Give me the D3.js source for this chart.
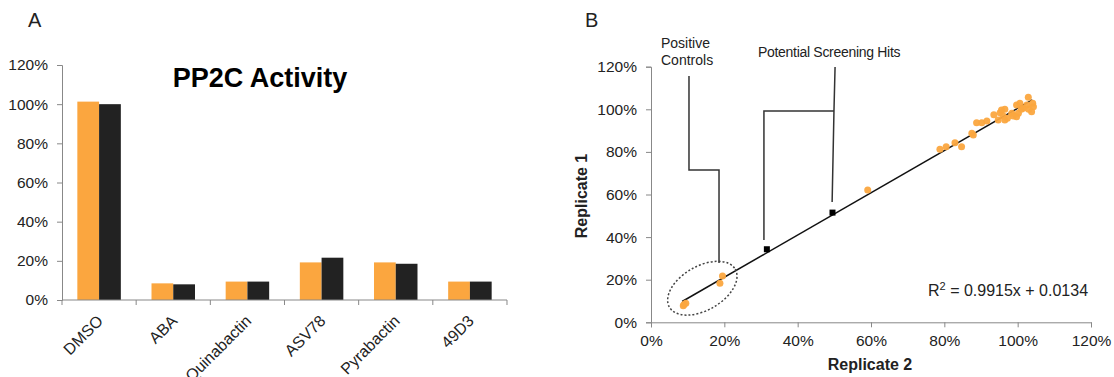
<!DOCTYPE html>
<html>
<head>
<meta charset="utf-8">
<script src="https://cdn.jsdelivr.net/npm/d3@7"></script>
<style>
  body { margin: 0; background: #fff; }
  text { font-family: "Liberation Sans", Arial, sans-serif; fill: #222; }
</style>
</head>
<body>
<div id="chart"></div>
<script>
// ---- data ----
var categories = ["DMSO", "ABA", "Quinabactin", "ASV78", "Pyrabactin", "49D3"];
var rep1 = [1.013, 0.085, 0.094, 0.192, 0.192, 0.094];   // orange bars
var rep2 = [1.000, 0.080, 0.094, 0.216, 0.185, 0.094];   // black bars
var yTicksA = [0, 0.2, 0.4, 0.6, 0.8, 1.0, 1.2];

// scatter: [replicate 2, replicate 1]
var screenPts = [
  [0.088, 0.078], [0.095, 0.089], [0.090, 0.083], [0.188, 0.183], [0.195, 0.217],
  [0.591, 0.621],
  [0.788, 0.812], [0.805, 0.824], [0.829, 0.843], [0.847, 0.824], [0.875, 0.887],
  [0.879, 0.879], [0.888, 0.937], [0.902, 0.937], [0.916, 0.945], [0.935, 0.975],
  [0.952, 0.984], [0.956, 0.997], [0.965, 1.000], [0.947, 0.950], [0.965, 0.950],
  [0.972, 0.958], [0.984, 0.981], [0.988, 0.969], [0.997, 1.020], [1.006, 1.028],
  [1.015, 1.005], [1.002, 0.981], [1.025, 1.020], [1.029, 1.056], [1.041, 1.028],
  [1.038, 0.989], [1.043, 1.012], [0.997, 0.965], [0.960, 0.970], [1.010, 1.000],
  [1.030, 1.000]
];
var hitPts = [[0.316, 0.343], [0.495, 0.515]];
var fitSlope = 0.9915, fitIntercept = 0.0134;
var fitRange = [0.085, 1.04];
var ticksB = [0, 0.2, 0.4, 0.6, 0.8, 1.0, 1.2];

// callout leader lines, in data units [x, y]
var controlsLeader = [[0.1036, 1.156], [0.1036, 0.715], [0.1855, 0.715], [0.1855, 0.278]];
var hitsLeaderA = [[0.502, 1.199], [0.499, 0.992], [0.494, 0.565]];
var hitsLeaderB = [[0.499, 0.992], [0.308, 0.992], [0.308, 0.386]];
var controlsCircle = [0.14, 0.16];

var orange = "#FBA63F", dark = "#222222", axisGrey = "#888888";
var pct = d3.format(".0%");

var svg = d3.select("#chart").append("svg")
  .attr("width", 1114)
  .attr("height", 377);

// ================= Panel A =================
var yA = d3.scaleLinear().domain([0, 1.2]).range([300, 65]);
var xA = d3.scaleBand().domain(categories).range([62, 507])
  .paddingInner(0.4135).paddingOuter(0.2068);
var xSub = d3.scaleBand().domain([0, 1]).range([0, xA.bandwidth()]);

svg.append("text").attr("x", 28).attr("y", 27)
  .style("font-size", "20px").text("A");

svg.append("text").attr("x", 260).attr("y", 87)
  .attr("text-anchor", "middle")
  .style("font-size", "27px").style("font-weight", "bold").style("fill", "#000")
  .text("PP2C Activity");

// y axis
var gyA = svg.append("g").attr("transform", "translate(62,0)")
  .call(d3.axisLeft(yA).tickValues(yTicksA).tickFormat(pct).tickSize(5).tickPadding(9));
gyA.select(".domain").attr("stroke", axisGrey);
gyA.selectAll(".tick line").attr("stroke", axisGrey);
gyA.selectAll(".tick text").style("font-size", "15.5px").style("font-family", "Liberation Sans, Arial").attr("fill", "#222");

// bars
var grp = svg.selectAll("g.cat")
  .data(categories)
  .enter()
  .append("g")
  .attr("class", "cat")
  .attr("transform", function(d) { return "translate(" + xA(d) + ",0)"; });

grp.selectAll("rect")
  .data(function(d, i) { return [rep1[i], rep2[i]]; })
  .enter()
  .append("rect")
  .attr("x", function(d, j) { return xSub(j); })
  .attr("width", xSub.bandwidth())
  .attr("y", function(d) { return yA(d); })
  .attr("height", function(d) { return yA(0) - yA(d); })
  .style("fill", function(d, j) { return j === 0 ? orange : dark; });

// x axis with boundary ticks
svg.append("line")
  .attr("x1", 62).attr("x2", 507).attr("y1", yA(0)).attr("y2", yA(0))
  .attr("stroke", axisGrey);
var step = xA.step();
svg.selectAll("line.btick")
  .data(d3.range(categories.length + 1))
  .enter()
  .append("line")
  .attr("class", "btick")
  .attr("x1", function(i) { return 62 + i * step; })
  .attr("x2", function(i) { return 62 + i * step; })
  .attr("y1", yA(0)).attr("y2", yA(0) + 5)
  .attr("stroke", axisGrey);

svg.selectAll("text.catlab")
  .data(categories)
  .enter()
  .append("text")
  .attr("class", "catlab")
  .attr("text-anchor", "end")
  .attr("transform", function(d) {
    return "translate(" + (xA(d) + xA.bandwidth() / 2 + 1) + "," + (yA(0) + 18) + ") rotate(-45)";
  })
  .attr("dy", "0.35em")
  .style("font-size", "16px")
  .text(function(d) { return d; });

// ================= Panel B =================
var xB = d3.scaleLinear().domain([0, 1.2]).range([651, 1091]);
var yB = d3.scaleLinear().domain([0, 1.2]).range([322.3, 66.7]);

svg.append("text").attr("x", 585).attr("y", 27)
  .style("font-size", "20px").text("B");

var gyB = svg.append("g").attr("transform", "translate(" + xB(0) + ",0)")
  .call(d3.axisLeft(yB).tickValues(ticksB).tickFormat(pct).tickSize(5).tickPadding(9));
var gxB = svg.append("g").attr("transform", "translate(0," + yB(0) + ")")
  .call(d3.axisBottom(xB).tickValues(ticksB).tickFormat(pct).tickSize(5).tickPadding(8));
[gyB, gxB].forEach(function(g) {
  g.select(".domain").attr("stroke", axisGrey);
  g.selectAll(".tick line").attr("stroke", axisGrey);
  g.selectAll(".tick text").style("font-size", "15.5px").style("font-family", "Liberation Sans, Arial").attr("fill", "#222");
});

svg.append("text")
  .attr("transform", "translate(587,196) rotate(-90)")
  .attr("text-anchor", "middle")
  .style("font-size", "16px").style("font-weight", "bold")
  .text("Replicate 1");

svg.append("text")
  .attr("x", 870).attr("y", 370)
  .attr("text-anchor", "middle")
  .style("font-size", "16px").style("font-weight", "bold")
  .text("Replicate 2");

// trend line
svg.append("line")
  .attr("x1", xB(fitRange[0])).attr("y1", yB(fitSlope * fitRange[0] + fitIntercept))
  .attr("x2", xB(fitRange[1])).attr("y2", yB(fitSlope * fitRange[1] + fitIntercept))
  .attr("stroke", "#111").attr("stroke-width", 1.5);

// points
svg.selectAll("circle.pt")
  .data(screenPts)
  .enter()
  .append("circle")
  .attr("class", "pt")
  .attr("cx", function(d) { return xB(d[0]); })
  .attr("cy", function(d) { return yB(d[1]); })
  .attr("r", 3.5)
  .style("fill", orange)
  .style("opacity", 0.95);

svg.selectAll("rect.hit")
  .data(hitPts)
  .enter()
  .append("rect")
  .attr("class", "hit")
  .attr("x", function(d) { return xB(d[0]) - 3; })
  .attr("y", function(d) { return yB(d[1]) - 3; })
  .attr("width", 6).attr("height", 6)
  .style("fill", "#000");

// callouts
var leader = d3.line()
  .x(function(d) { return xB(d[0]); })
  .y(function(d) { return yB(d[1]); });

[controlsLeader, hitsLeaderA, hitsLeaderB].forEach(function(p) {
  svg.append("path")
    .attr("d", leader(p))
    .attr("fill", "none")
    .attr("stroke", "#333")
    .attr("stroke-width", 1.5);
});

svg.append("ellipse")
  .attr("transform", "translate(" + xB(controlsCircle[0]) + "," + yB(controlsCircle[1]) + ") rotate(-30)")
  .attr("rx", 38).attr("ry", 22)
  .attr("fill", "none")
  .attr("stroke", "#444")
  .attr("stroke-width", 1.5)
  .attr("stroke-dasharray", "2,2");

svg.append("text").attr("x", 661).attr("y", 48)
  .style("font-size", "14px").text("Positive");
svg.append("text").attr("x", 661).attr("y", 65)
  .style("font-size", "14px").text("Controls");
svg.append("text").attr("x", 758).attr("y", 57)
  .style("font-size", "14px").style("letter-spacing", "-0.3px").text("Potential Screening Hits");

// equation
var eq = svg.append("text").attr("x", 928).attr("y", 296)
  .style("font-size", "16px");
eq.append("tspan").text("R");
eq.append("tspan").attr("dy", -6).style("font-size", "11px").text("2");
eq.append("tspan").attr("dy", 6).text(" = " + fitSlope + "x  + " + fitIntercept);
</script>
</body>
</html>
